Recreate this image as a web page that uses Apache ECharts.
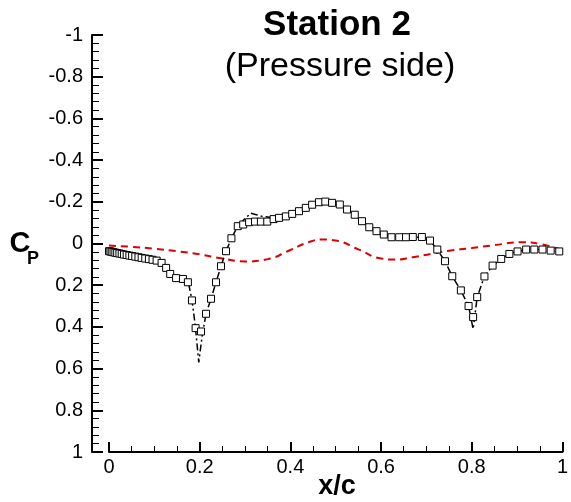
<!DOCTYPE html>
<html>
<head>
<meta charset="utf-8">
<script src="https://cdn.jsdelivr.net/npm/echarts@6/dist/echarts.min.js"></script>
<style>
  html, body { margin: 0; padding: 0; background: #fff; }
  #main { width: 571px; height: 502px; }
</style>
</head>
<body>
<div id="main"></div>
<script>
// dash-dot line
const lineX = [0, 0.02, 0.05, 0.08, 0.105, 0.12, 0.135, 0.15, 0.165, 0.175,
  0.183, 0.19, 0.198, 0.205, 0.214, 0.225, 0.236, 0.247, 0.258, 0.27,
  0.284, 0.3, 0.313, 0.325, 0.338, 0.36, 0.39, 0.404, 0.42, 0.434,
  0.448, 0.463, 0.477, 0.492, 0.509, 0.525, 0.542, 0.558, 0.574, 0.59,
  0.606, 0.623, 0.64, 0.67, 0.69, 0.708, 0.724, 0.741, 0.757, 0.776,
  0.793, 0.803, 0.812, 0.828, 0.846, 0.865, 0.883, 0.901, 0.92, 0.94,
  0.956, 0.974, 1];
const lineY = [0.035, 0.045, 0.06, 0.072, 0.085, 0.1, 0.145, 0.167, 0.172, 0.187,
  0.27, 0.39, 0.57, 0.45, 0.337, 0.265, 0.186, 0.109, 0.037, -0.025,
  -0.083, -0.12, -0.145, -0.138, -0.13, -0.125, -0.13, -0.142, -0.155, -0.171,
  -0.186, -0.198, -0.203, -0.197, -0.187, -0.163, -0.138, -0.107, -0.078, -0.059,
  -0.043, -0.032, -0.03, -0.03, -0.03, -0.014, 0.029, 0.085, 0.157, 0.225,
  0.30, 0.41, 0.257, 0.158, 0.106, 0.074, 0.05, 0.038, 0.03, 0.029,
  0.029, 0.034, 0.04];

// square symbols
const sqX = [0, 0.003, 0.006, 0.01, 0.014, 0.018, 0.023, 0.028, 0.033, 0.039,
  0.045, 0.051, 0.058, 0.065, 0.072, 0.08, 0.088, 0.096, 0.105, 0.116,
  0.126, 0.135, 0.148, 0.163, 0.174, 0.183, 0.191, 0.203, 0.214, 0.225,
  0.236, 0.247, 0.258, 0.27, 0.284, 0.296, 0.309, 0.322, 0.335, 0.349,
  0.363, 0.375, 0.39, 0.404, 0.419, 0.434, 0.448, 0.463, 0.477, 0.492,
  0.509, 0.525, 0.542, 0.558, 0.574, 0.59, 0.606, 0.623, 0.64, 0.655,
  0.67, 0.69, 0.708, 0.724, 0.741, 0.757, 0.776, 0.793, 0.803, 0.812,
  0.828, 0.846, 0.865, 0.883, 0.901, 0.92, 0.938, 0.956, 0.974, 0.993];
const sqY = [0.037, 0.038, 0.04, 0.042, 0.044, 0.046, 0.048, 0.05, 0.053, 0.055,
  0.058, 0.06, 0.063, 0.066, 0.069, 0.072, 0.075, 0.078, 0.082, 0.093,
  0.117, 0.146, 0.166, 0.17, 0.186, 0.273, 0.406, 0.422, 0.337, 0.265,
  0.186, 0.109, 0.037, -0.025, -0.083, -0.091, -0.102, -0.105, -0.105, -0.105,
  -0.117, -0.123, -0.13, -0.142, -0.155, -0.171, -0.186, -0.198, -0.201, -0.195,
  -0.187, -0.163, -0.138, -0.107, -0.078, -0.059, -0.043, -0.03, -0.03, -0.03,
  -0.031, -0.031, -0.014, 0.029, 0.085, 0.157, 0.225, 0.30, 0.353, 0.257,
  0.158, 0.106, 0.074, 0.05, 0.038, 0.029, 0.029, 0.029, 0.034, 0.038];

// red dashed line
const redX = [0, 0.05, 0.1, 0.15, 0.2, 0.25, 0.3, 0.35, 0.4, 0.44, 0.47, 0.5,
  0.55, 0.6, 0.63, 0.67, 0.71, 0.75, 0.8, 0.85, 0.91, 0.95, 1];
const redY = [0.01, 0.016, 0.025, 0.037, 0.052, 0.072, 0.086, 0.075, 0.031, -0.006, -0.019, -0.014,
  0.028, 0.072, 0.077, 0.066, 0.05, 0.035, 0.022, 0.008, -0.006, 0.002, 0.032];

const font = "'Liberation Sans', Arial, Helvetica, sans-serif";
const zip = (xs, ys) => xs.map((x, i) => [x, ys[i]]);

const chart = echarts.init(document.getElementById("main"), null, { renderer: "canvas" });

chart.setOption({
  animation: false,
  backgroundColor: "#fff",
  grid: { left: 109, right: 5, top: 35, bottom: 50 },
  xAxis: {
    type: "value",
    min: 0, max: 1, interval: 0.2,
    axisLine: { onZero: false, lineStyle: { color: "#000", width: 2 } },
    axisTick: { inside: true, length: 10, lineStyle: { color: "#000", width: 2 } },
    minorTick: { show: true, splitNumber: 4, length: 6, lineStyle: { color: "#000", width: 1 } },
    splitLine: { show: false },
    axisLabel: { color: "#000", fontSize: 20, fontFamily: font, margin: 5 },
  },
  yAxis: {
    type: "value",
    inverse: true,
    min: -1, max: 1, interval: 0.2,
    offset: 17,
    axisLine: { show: true, onZero: false, lineStyle: { color: "#000", width: 2 } },
    axisTick: { show: true, inside: true, length: 11, lineStyle: { color: "#000", width: 2 } },
    minorTick: { show: true, splitNumber: 5, length: 7, lineStyle: { color: "#000", width: 1 } },
    splitLine: { show: false },
    axisLabel: { color: "#000", fontSize: 20, fontFamily: font, margin: 9 },
  },
  graphic: [
    { type: "text", x: 337, y: 25, style: { text: "Station 2", font: `bold 35px ${font}`, fill: "#000", textAlign: "center", textVerticalAlign: "middle" } },
    { type: "text", x: 340, y: 67, style: { text: "(Pressure side)", font: `34px ${font}`, fill: "#000", textAlign: "center", textVerticalAlign: "middle" } },
    { type: "text", x: 337, y: 487, style: { text: "x/c", font: `bold 27px ${font}`, fill: "#000", textAlign: "center", textVerticalAlign: "middle" } },
    { type: "text", x: 20, y: 244, style: { text: "C", font: `bold 29px ${font}`, fill: "#000", textAlign: "center", textVerticalAlign: "middle" } },
    { type: "text", x: 27, y: 259, style: { text: "P", font: `bold 18px ${font}`, fill: "#000", textAlign: "left", textVerticalAlign: "middle" } },
  ],
  series: [
    {
      type: "line",
      data: zip(redX, redY),
      smooth: true,
      symbol: "none",
      lineStyle: { color: "#dd0000", width: 2, type: [7, 5] },
      z: 2,
    },
    {
      type: "line",
      data: zip(lineX, lineY),
      symbol: "none",
      lineStyle: { color: "#000", width: 1.5, type: [7, 3, 2, 3] },
      z: 3,
    },
    {
      type: "scatter",
      data: zip(sqX, sqY),
      symbol: "rect",
      symbolSize: 7,
      itemStyle: { color: "#fff", borderColor: "#000", borderWidth: 1, opacity: 1 },
      z: 4,
    },
  ],
});
</script>
</body>
</html>
